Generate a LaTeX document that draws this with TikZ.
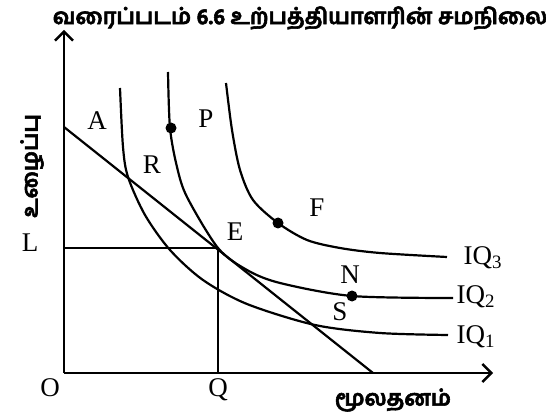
\documentclass[tikz,border=0pt]{standalone}
\usepackage{fontspec}
\setmainfont{Liberation Serif}
\newfontfamily\tamilfont[Script=Tamil,FakeBold=2.5]{Hind Madurai}
\usetikzlibrary{arrows.meta}

\begin{document}
\begin{tikzpicture}[x=1pt,y=-1pt,
  curve/.style={line width=2.2pt},
  lbl/.style={font=\fontsize{27}{29}\selectfont},
  tam/.style={font=\tamilfont\bfseries\fontsize{22}{24}\selectfont},
  dot/.style={circle,fill,inner sep=0pt,minimum size=11pt}]
\useasboundingbox (0,0) rectangle (546,414);
% title
\node[tam] (title) at (300,18) {வரைப்படம் 6.6 உற்பத்தியாளரின் சமநிலை};
% axes
\coordinate (O) at (64,373);
\coordinate (ytip) at (64,30);
\coordinate (xtip) at (493,373);
\draw[line width=2.4pt,-{Straight Barb[length=9pt,width=18pt]}] (O) -- (ytip);
\draw[line width=2.4pt,-{Straight Barb[length=9pt,width=18pt]}] (O) -- (xtip);
\node[tam,rotate=90] (ylab) at (32,166) {உழைப்பு};
\node[tam] (xlab) at (393,400) {மூலதனம்};
% budget line
\coordinate (A) at (64,127);
\coordinate (B) at (373,373);
\draw[line width=2.2pt] (A) -- (B);
% equilibrium
\coordinate (E) at (218,248);
\coordinate (Lpt) at (64,248);
\coordinate (Qpt) at (218,373);
\draw[line width=1.8pt] (Lpt) -- (E) -- (Qpt);
% isoquants
\draw[curve] plot[smooth] coordinates {(120,88) (123,147) (128,177) (145,215) (170,250) (203,280) (247,304) (315,325) (380,333) (448,335)};
\draw[curve] plot[smooth] coordinates {(168,72) (170,128) (177,167) (187,197) (218,248) (247,270) (280,283) (352,296) (453,298)};
\draw[curve] plot[smooth] coordinates {(226,83) (232,130) (240,170) (253,200) (278,223) (307,240) (340,248) (380,253) (447,257)};
\node[dot] (P) at (171,128) {};
\node[dot] (F) at (278,223) {};
\node[dot] (N) at (352,296) {};
% labels
\node[lbl] (labO) at (50,388) {O};
\node[lbl] (labQ) at (218,390) {Q};
\node[lbl] (labL) at (30,243) {L};
\node[lbl] (labA) at (97,121) {A};
\node[lbl] (labP) at (206,119) {P};
\node[lbl] (labR) at (152,165) {R};
\node[lbl] (labE) at (235,232) {E};
\node[lbl] (labF) at (317,208) {F};
\node[lbl] (labN) at (350,275) {N};
\node[lbl] (labS) at (340,312) {S};
\node[lbl,anchor=west] (iq3) at (460,258) {IQ\textsubscript{3}};
\node[lbl,anchor=west] (iq2) at (453,297) {IQ\textsubscript{2}};
\node[lbl,anchor=west] (iq1) at (453,337) {IQ\textsubscript{1}};
\end{tikzpicture}
\end{document}
